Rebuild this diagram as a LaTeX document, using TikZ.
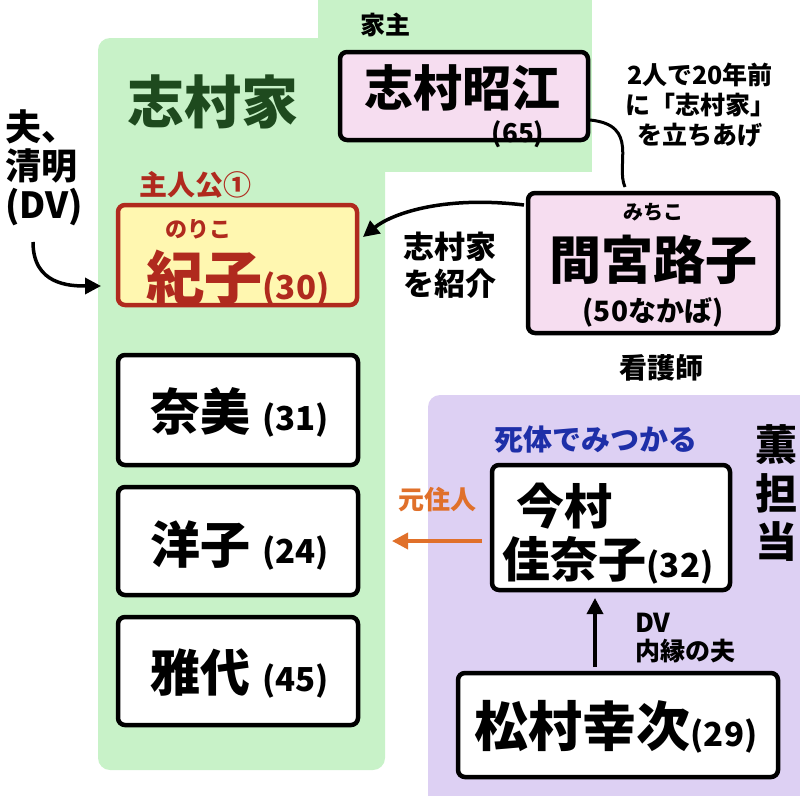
\documentclass[tikz,border=0pt]{standalone}
\usepackage{fontspec}
\setmainfont{Noto Sans CJK JP}
\usetikzlibrary{arrows.meta}
\definecolor{grn}{HTML}{C8F2C8}
\definecolor{prp}{HTML}{DDD0F3}
\definecolor{pnk}{HTML}{F6DDF0}
\definecolor{ylw}{HTML}{FFF7B0}
\definecolor{redb}{HTML}{B02A1E}
\definecolor{dgrn}{HTML}{1E4A1E}
\definecolor{blu}{HTML}{1E2FA8}
\definecolor{org}{HTML}{E0702A}
\newcommand{\fs}[1]{\fontsize{#1}{#1}\selectfont\bfseries}
\begin{document}
\begin{tikzpicture}[x=1pt,y=-1pt,
 box/.style={draw=black,line width=4.5pt,rounded corners=7pt,fill=white},
 lab/.style={inner sep=0pt,align=center},
 arr/.style={line width=3.5pt,-{Triangle[length=16pt,width=16pt]}}]
\useasboundingbox (0,0) rectangle (800,795);
% regions
\fill[grn,rounded corners=12pt] (98,38) rectangle (385,770);
\fill[grn] (318,0) rectangle (592,172);
\fill[grn] (318,38) rectangle (385,200);
\fill[prp,rounded corners=12pt] (428,395) rectangle (812,808);
% boxes
\draw[box,fill=pnk] (340,52) rectangle (588,140);
\node[lab] (shie) at (462,88) {\fs{49}志村昭江};
\node[lab] (a65) at (518,134) {\fs{26}(65)};
\node[lab] (yanushi) at (385,25) {\fs{25}家主};
\node[lab,text=dgrn] (shimura) at (213,102) {\fs{57}志村家};
\node[lab,text=redb] (shu) at (195,185) {\fs{28}主人公①};
\draw[box,draw=redb,fill=ylw] (118,205) rectangle (357,305);
\node[lab,text=redb] (nori) at (198,229) {\fs{22}のりこ};
\node[lab,text=redb] (noriko) at (238,278) {\fs{58}紀子\fs{33}(30)};
\draw[box,fill=pnk] (528,193) rectangle (778,333);
\node[lab] (michi) at (653,212) {\fs{20}みちこ};
\node[lab] (mamiya) at (653,260) {\fs{52}間宮路子};
\node[lab] (a50) at (653,312) {\fs{28}(50なかば)};
\node[lab] (kango) at (661,368) {\fs{28}看護師};
\node[lab,align=center] (note) at (700,105) {\fs{25}2人で20年前\\[5pt]\fs{25}に「志村家」\\[5pt]\fs{25}を立ちあげ};
\node[lab,align=left] (shokai) at (450,265) {\fs{31}志村家\\[6pt]\fs{31}を紹介};
\node[lab,align=left] (otto) at (44,168) {\fs{36}夫、\\[4pt]\fs{36}清明\\[4pt]\fs{36}(DV)};
\draw[box] (118,355) rectangle (358,465);
\node[lab] (nami) at (240,412) {\fs{50}奈美 \fs{33}(31)};
\draw[box] (118,487) rectangle (358,595);
\node[lab] (yoko) at (240,545) {\fs{50}洋子 \fs{33}(24)};
\draw[box] (118,617) rectangle (358,725);
\node[lab] (masayo) at (240,673) {\fs{50}雅代 \fs{33}(45)};
\node[lab,text=blu] (shitai) at (596,440) {\fs{29}死体でみつかる};
\node[lab,align=center] (kaoru) at (776,493) {\fs{42}薫\\[8pt]\fs{42}担\\[8pt]\fs{42}当};
\draw[box] (492,465) rectangle (730,590);
\node[lab] (ima) at (564,506) {\fs{48}今村};
\node[lab] (kana) at (608,560) {\fs{48}佳奈子\fs{33}(32)};
\node[lab,text=org] (moto) at (437,500) {\fs{26}元住人};
\draw[box] (458,673) rectangle (778,777);
\node[lab] (matsu) at (616,727) {\fs{54}松村幸次\fs{33}(29)};
\node[lab,align=left] (dv) at (685,638) {\fs{26}DV\\[6pt]\fs{25}内縁の夫};
% connectors
\coordinate (c1) at (590,120);
\coordinate (c2) at (625,187);
\draw[line width=3pt] (c1) .. controls (640,125) and (615,165) .. (c2);
\coordinate (m1) at (524,205);
\coordinate (n1) at (363,237);
\draw[arr] (m1) .. controls (440,195) and (390,215) .. (n1);
\coordinate (o1) at (33,242);
\coordinate (o2) at (101,286);
\draw[arr] (o1) .. controls (33,285) and (70,286) .. (o2);
\coordinate (k1) at (482,541);
\coordinate (k2) at (392,541);
\draw[arr,org] (k1) -- (k2);
\coordinate (s1) at (595,667);
\coordinate (s2) at (595,598);
\draw[arr] (s1) -- (s2);
\end{tikzpicture}
\end{document}
